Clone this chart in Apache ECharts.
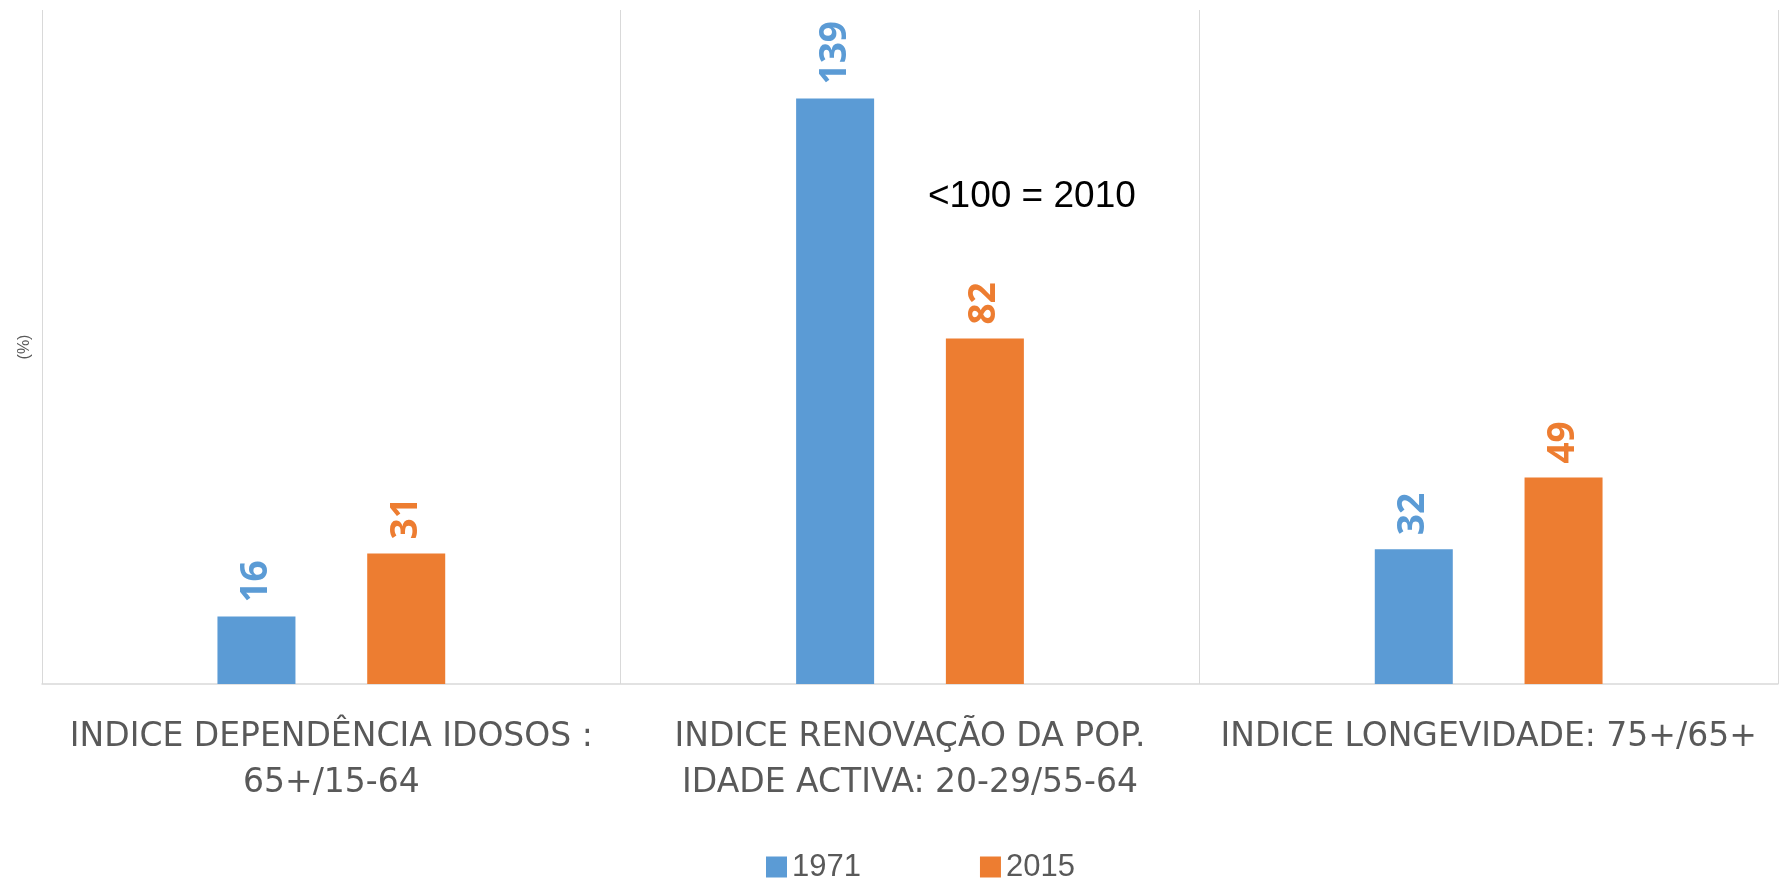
<!DOCTYPE html>
<html>
<head>
<meta charset="utf-8">
<script src="https://cdn.jsdelivr.net/npm/echarts@6/dist/echarts.min.js"></script>
<style>
  html, body { margin: 0; padding: 0; background: #fff; }
  #chart { width: 1781px; height: 878px; }
</style>
</head>
<body>
<div id="chart"></div>
<script>
// dados
const categories = [
  'INDICE DEPENDÊNCIA IDOSOS :\n65+/15-64',
  'INDICE RENOVAÇÃO DA POP.\nIDADE ACTIVA: 20-29/55-64',
  'INDICE LONGEVIDADE: 75+/65+'
]
const years = ['1971', '2015']
const values1971 = [16, 139, 32]
const values2015 = [31, 82, 49]
const note = '<100 = 2010'

const colors = ['#5B9BD5', '#ED7D31']

function barLabel(color) {
  return {
    show: true,
    position: 'top',
    rotate: 90,
    align: 'left',
    verticalAlign: 'middle',
    distance: 14,
    color: color,
    fontFamily: 'Open Sans',
    fontWeight: 'bold',
    fontSize: 37
  }
}

const option = {
  backgroundColor: '#fff',
  animation: false,
  grid: {
    left: 42,
    right: 3,
    top: 10,
    bottom: 194
  },
  legend: {
    data: years,
    left: 761,
    top: 845,
    icon: 'rect',
    itemWidth: 21,
    itemHeight: 21,
    itemGap: 119,
    textStyle: {
      color: '#595959',
      fontFamily: 'Liberation Sans',
      fontSize: 31,
      lineHeight: 34
    }
  },
  xAxis: {
    type: 'category',
    data: categories,
    axisTick: { show: false },
    axisLine: {
      show: true,
      lineStyle: { color: '#d9d9d9', width: 1.5 }
    },
    splitLine: {
      show: true,
      lineStyle: { color: '#d9d9d9', width: 1 }
    },
    axisLabel: {
      interval: 0,
      margin: 30,
      color: '#595959',
      fontFamily: 'DejaVu Sans',
      fontSize: 33,
      lineHeight: 46
    }
  },
  yAxis: {
    type: 'value',
    min: 0,
    max: 160,
    name: '(%)',
    nameLocation: 'middle',
    nameRotate: 90,
    nameGap: 9,
    nameTextStyle: {
      color: '#595959',
      fontFamily: 'Liberation Sans',
      fontSize: 16
    },
    axisLine: { show: false },
    axisTick: { show: false },
    axisLabel: { show: false },
    splitLine: { show: false }
  },
  series: [
    {
      name: years[0],
      type: 'bar',
      data: values1971,
      barWidth: 78,
      barGap: '92%',
      itemStyle: { color: colors[0] },
      label: barLabel(colors[0])
    },
    {
      name: years[1],
      type: 'bar',
      data: values2015,
      barWidth: 78,
      barGap: '92%',
      itemStyle: { color: colors[1] },
      label: barLabel(colors[1])
    }
  ],
  graphic: [
    {
      type: 'text',
      left: 928,
      top: 178,
      style: {
        text: note,
        fill: '#000',
        font: '37px "Liberation Sans"'
      }
    }
  ]
}

const myChart = echarts.init(document.getElementById('chart'))
myChart.setOption(option)
</script>
</body>
</html>
